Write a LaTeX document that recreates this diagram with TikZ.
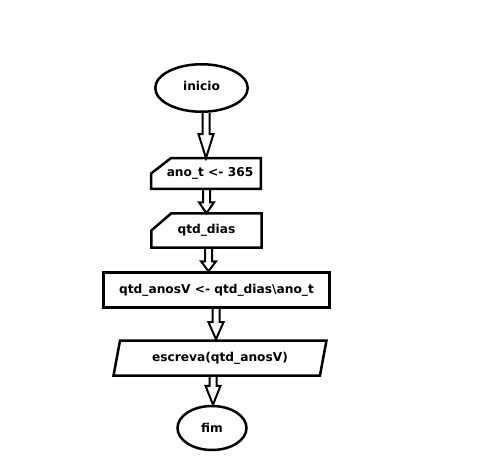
\documentclass[tikz,border=0pt]{standalone}
\usepackage{fontspec}
\setmainfont{DejaVu Sans}
\usetikzlibrary{shapes.geometric,calc}

\begin{document}
\begin{tikzpicture}[
        font=\bfseries\fontsize{12.2}{14}\selectfont,
        term/.style={ellipse, draw, line width=2.5pt, inner sep=0pt},
        proc/.style={rectangle, draw, line width=2.5pt, inner sep=0pt, minimum height=35pt},
        manin/.style={rectangle, inner sep=0pt,
            append after command={\pgfextra{\draw[line width=2.5pt, line join=miter]
                (\tikzlastnode.west) -- ($(\tikzlastnode.north west)+(20pt,0)$)
                -- (\tikzlastnode.north east) -- (\tikzlastnode.south east)
                -- (\tikzlastnode.south west) -- cycle;}}},
        saida/.style={trapezium, trapezium left angle=70, trapezium right angle=110,
            trapezium stretches=true, draw, line width=2.5pt, inner sep=0pt},
        hollow/.style={draw, line width=2pt, line join=miter, to path={
            let \p1=(\tikztostart), \p2=(\tikztotarget) in
            (\x2-3.5pt,\y1) -- (\x2-3.5pt,\y2+#1) -- (\x2-7.5pt,\y2+#1) -- (\x2,\y2)
            -- (\x2+7.5pt,\y2+#1) -- (\x2+3.5pt,\y2+#1) -- (\x2+3.5pt,\y1)}},
        hollow/.default=16pt
    ]
            \useasboundingbox (0,0) rectangle (488pt,-466pt);

            \node[term, minimum width=92.5pt, minimum height=47.5pt] (1) at (201.5pt,-88pt) {\raisebox{5pt}{inicio}};
            \node[manin, minimum width=109.5pt, minimum height=30.5pt] (2) [below of = 1, node distance=85.5pt, xshift=4.5pt] {\hspace*{8pt}ano\_t <- 365};
            \node[manin, minimum width=110pt, minimum height=34pt] (3) [below of = 2, node distance=57pt, xshift=0.5pt] {qtd\_dias};
            \node[proc, minimum width=226pt] (4) [below of = 3, node distance=59.5pt, xshift=10pt] {qtd\_anosV <- qtd\_dias\textbackslash ano\_t};
            \node[saida, minimum width=213pt, minimum height=35pt] (5) [below of = 4, node distance=68pt, xshift=3.5pt] {escreva(qtd\_anosV)};
            \node[term, minimum width=69pt, minimum height=44pt] (6) [below of = 5, node distance=70pt, xshift=-8pt] {fim};

            \path
                (1.south) edge[hollow=24pt] (2.north)
                (2.south) edge[hollow=11pt] (3.north)
                (3.south) edge[hollow=10pt] ($(4.north)+(-8pt,0)$)
                (4.south) edge[hollow=17pt] ($(5.north)+(-4pt,0)$)
                (5.south) edge[hollow=19pt] ($(6.north)+(1pt,0)$)
            ;
        \end{tikzpicture}
\end{document}
